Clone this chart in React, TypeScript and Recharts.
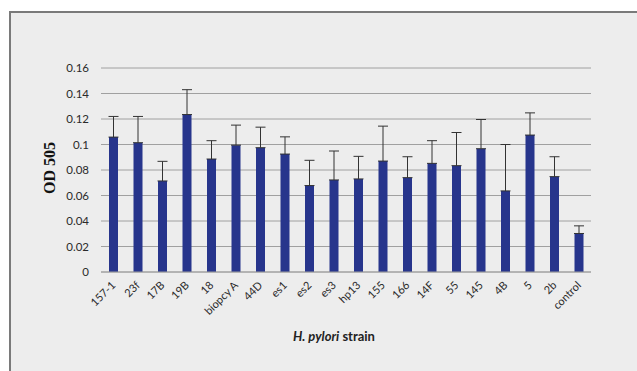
import React from 'react';
import {
  BarChart,
  Bar,
  XAxis,
  YAxis,
  CartesianGrid,
  ErrorBar,
  Label,
} from 'recharts';

const strains = [
  '157-1', '23f', '17B', '19B', '18', 'biopcy A', '44D', 'es1', 'es2', 'es3',
  'hp13', '155', '166', '14F', '55', '145', '4B', '5', '2b', 'control',
];
const od505 = [
  0.1058, 0.1014, 0.0714, 0.1235, 0.0886, 0.0995, 0.0975, 0.0925, 0.0678, 0.0722,
  0.073, 0.087, 0.074, 0.0852, 0.0834, 0.0967, 0.0636, 0.1074, 0.0748, 0.0302,
];
const upperBound = [
  0.122, 0.122, 0.0868, 0.143, 0.103, 0.1152, 0.1136, 0.106, 0.0876, 0.0949,
  0.0907, 0.1144, 0.0904, 0.103, 0.1094, 0.1196, 0.1, 0.1248, 0.0904, 0.0362,
];
const yTicks = [0, 0.02, 0.04, 0.06, 0.08, 0.1, 0.12, 0.14, 0.16];

const data = strains.map((name, i) => ({
  name,
  od: od505[i],
  err: [0, Number((upperBound[i] - od505[i]).toFixed(4))],
}));

const labelFont = 'Lato, "Open Sans", sans-serif';

function StrainTick(props: any) {
  const { x, y, payload } = props;
  return (
    <text
      transform={`translate(${x + 3},${y + 6}) rotate(-45)`}
      textAnchor="end"
      fontSize={11}
      fontFamily={labelFont}
      fill="#2a2a2a"
    >
      {payload.value}
    </text>
  );
}

function AxisTitle() {
  return (
    <text x={334} y={341} textAnchor="middle" fontSize={13} fontWeight="bold" fontFamily={labelFont} fill="#222">
      <tspan fontStyle="italic">H. pylori</tspan>
      <tspan> strain</tspan>
    </text>
  );
}

function YTitle() {
  return (
    <text
      transform="translate(55,168) rotate(-90)"
      textAnchor="middle"
      fontSize={16}
      fontWeight="bold"
      fontFamily='"Liberation Serif", "DejaVu Serif", serif'
      fill="#111"
    >
      OD 505
    </text>
  );
}

export default function App() {
  return (
    <div style={{ position: 'fixed', left: 0, top: 0, width: 637, height: 371, background: '#fff' }}>
      <div
        style={{
          position: 'absolute',
          left: 9,
          top: 11,
          right: 0,
          bottom: 0,
          background: '#ededed',
          borderTop: '2px solid #7a7a7a',
          borderLeft: '2px solid #7a7a7a',
        }}
      />
      <div style={{ position: 'absolute', left: 0, top: 0 }}>
        <BarChart
          width={637}
          height={371}
          data={data}
          margin={{ top: 68, right: 46, bottom: 0, left: 0 }}
          barCategoryGap="0%"
        >
          <CartesianGrid horizontal vertical={false} stroke="#a0a0a0" />
          <XAxis
            dataKey="name"
            interval={0}
            tick={<StrainTick />}
            tickLine={false}
            axisLine={{ stroke: '#a0a0a0' }}
            height={99}
          >
            <Label content={<AxisTitle />} />
          </XAxis>
          <YAxis
            width={101}
            domain={[0, 0.16]}
            ticks={yTicks}
            interval={0}
            tickLine={false}
            axisLine={false}
            tickMargin={6}
            tick={{ fontSize: 11.5, fill: '#2a2a2a', fontFamily: labelFont }}
          >
            <Label content={<YTitle />} />
          </YAxis>
          <Bar dataKey="od" fill="#27358c" barSize={9} isAnimationActive={false}>
            <ErrorBar dataKey="err" width={5} stroke="#333" strokeWidth={1} direction="y" />
          </Bar>
        </BarChart>
      </div>
    </div>
  );
}
